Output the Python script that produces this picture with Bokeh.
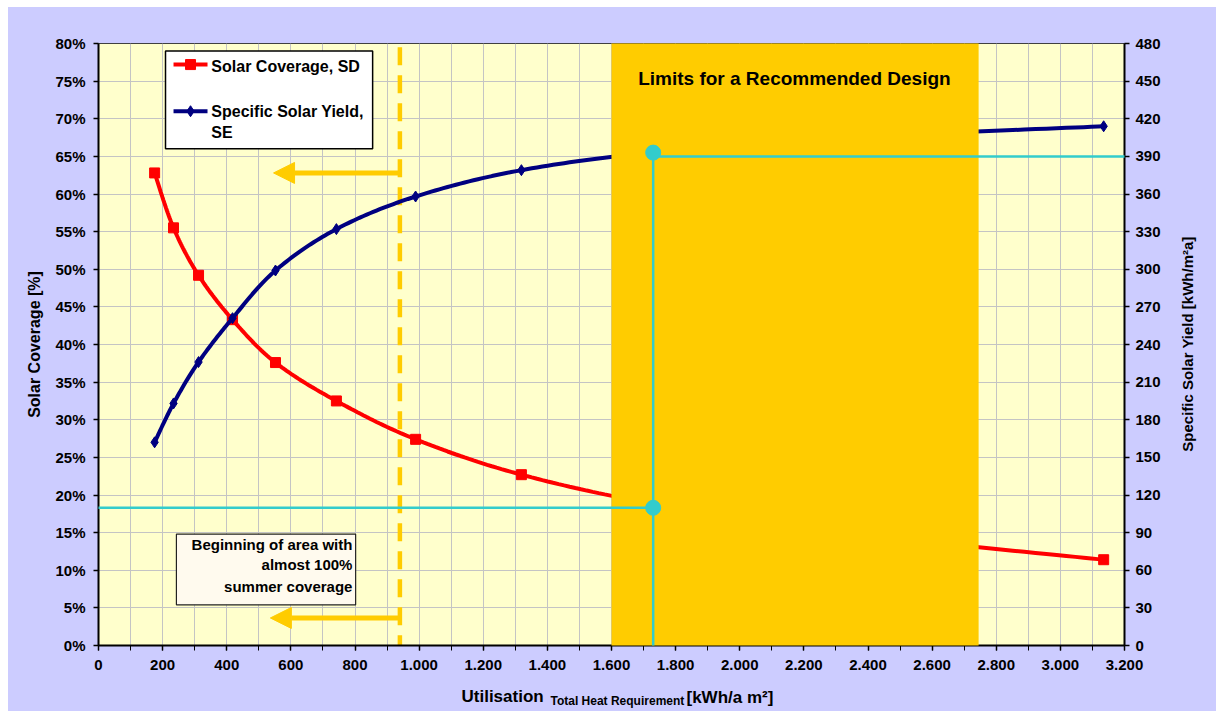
import numpy as np
from bokeh.plotting import figure
from bokeh.layouts import row, column
from bokeh.models import (Range1d, LinearAxis, FixedTicker, PrintfTickFormatter,
                          BoxAnnotation, Label, Arrow, NormalHead, Spacer)
from bokeh.core.properties import value
from bokeh.embed import file_html
from bokeh.resources import INLINE

# ---------------- data ----------------
utilisation = [175, 234, 312, 418, 552, 742, 989, 1319, 1759, 2345, 3135]
solar_coverage = [62.8, 55.5, 49.2, 43.3, 37.6, 32.5, 27.4, 22.7, 18.6, 14.9, 11.4]
specific_yield = [162, 193, 226, 261, 299, 332, 358, 379, 394, 405, 414]

x_ticks = list(range(0, 3201, 200))
x_tick_labels = ["0", "200", "400", "600", "800", "1.000", "1.200", "1.400", "1.600",
                 "1.800", "2.000", "2.200", "2.400", "2.600", "2.800", "3.000", "3.200"]
y_left_ticks = list(range(0, 81, 5))
y_right_ticks = list(range(0, 481, 30))

design_zone = (1600, 2745)          # "Limits for a Recommended Design"
summer_start = 940                  # beginning of area with ~100% summer coverage
limit_x = 1730
limit_coverage = 18.3
limit_dot_coverage = 65.5
limit_yield = 390

FONT = "Liberation Sans"
RED = "#FF0000"
NAVY = "#000080"
ORANGE = "#FFCC00"
CYAN = "#33CCCC"
LAVENDER = "#CCCCFF"


def smooth(xs, ys, n=24):
    pts = np.column_stack([xs, ys]).astype(float)
    ext = np.vstack([pts[0], pts, pts[-1]])
    out = []
    for i in range(1, len(ext) - 2):
        p0, p1, p2, p3 = ext[i - 1], ext[i], ext[i + 1], ext[i + 2]
        for t in np.linspace(0, 1, n, endpoint=False):
            t2, t3 = t * t, t * t * t
            pt = 0.5 * ((2 * p1) + (-p0 + p2) * t + (2 * p0 - 5 * p1 + 4 * p2 - p3) * t2
                        + (-p0 + 3 * p1 - 3 * p2 + p3) * t3)
            out.append(pt)
    out.append(pts[-1])
    out = np.array(out)
    return out[:, 0], out[:, 1]


p = figure(width=1162, height=673, x_range=Range1d(0, 3200), y_range=Range1d(0, 80),
           output_backend="svg", toolbar_location=None,
           min_border_left=90, min_border_right=46, min_border_top=36, min_border_bottom=35)
p.extra_y_ranges = {"right": Range1d(0, 480)}

p.background_fill_color = "#FFFFCC"
p.border_fill_color = LAVENDER
p.outline_line_color = "#404040"
p.outline_line_width = 1

# grids
p.xgrid.ticker = FixedTicker(ticks=list(range(0, 3201, 100)))
p.ygrid.ticker = FixedTicker(ticks=y_left_ticks)
for g in (p.xgrid, p.ygrid):
    g.grid_line_color = "#C4C4C4"
    g.grid_line_width = 1

# axes
xa = p.xaxis[0]
xa.ticker = FixedTicker(ticks=x_ticks, minor_ticks=list(range(0, 3201, 100)))
xa.major_label_overrides = {t: lab for t, lab in zip(x_ticks, x_tick_labels)}
xa.major_label_standoff = 9
xa.minor_tick_out = 5
xa.minor_tick_in = 0
xa.major_tick_out = 5
xa.major_tick_in = 0

ya = p.yaxis[0]
ya.ticker = FixedTicker(ticks=y_left_ticks)
ya.formatter = PrintfTickFormatter(format="%d%%")
ya.axis_label = "Solar Coverage [%]"
ya.axis_label_standoff = 9
ya.major_label_standoff = 8
ya.major_tick_out = 5
ya.major_tick_in = 0

yr = LinearAxis(y_range_name="right", ticker=FixedTicker(ticks=y_right_ticks))
yr.major_label_standoff = 6
yr.major_tick_out = 5
yr.major_tick_in = 0
p.add_layout(yr, "right")

for ax in (xa, ya, yr):
    ax.axis_line_color = "black"
    ax.axis_line_width = 2
    ax.major_tick_line_color = "black"
    ax.major_tick_line_width = 1.5
    ax.minor_tick_line_color = "black" if ax is xa else None
    ax.major_label_text_font = FONT
    ax.major_label_text_font_style = "bold"
    ax.major_label_text_font_size = "15px"
    ax.major_label_text_color = "black"
    ax.axis_label_text_font = FONT
    ax.axis_label_text_font_style = "bold"
    ax.axis_label_text_font_size = "16px"
    ax.axis_label_text_color = "black"

# dashed summer line
p.line([summer_start, summer_start], [79.5, 0], line_color=ORANGE, line_width=4.5,
       line_dash="18 10")

# curves
sx, sy = smooth(utilisation, solar_coverage)
p.line(sx, sy, line_color=RED, line_width=4)
p.scatter(utilisation, solar_coverage, marker="square", size=10, fill_color=RED, line_color=RED)

bx, by = smooth(utilisation, specific_yield)
p.line(bx, by, line_color=NAVY, line_width=4, y_range_name="right")
p.scatter(utilisation, specific_yield, marker="diamond", size=11, fill_color=NAVY,
          line_color=NAVY, y_range_name="right")

# legend (drawn manually)
p.quad(left=[209], right=[855], bottom=[66.0], top=[79.0], fill_color="white",
       line_color="black", line_width=1.5)
p.line([234, 340], [77.2, 77.2], line_color=RED, line_width=4)
p.scatter([287], [77.2], marker="square", size=10, fill_color=RED, line_color=RED)
p.line([234, 340], [71.0, 71.0], line_color=NAVY, line_width=4)
p.scatter([287], [71.0], marker="diamond", size=11, fill_color=NAVY, line_color=NAVY)
p.text(x=[352, 352, 352], y=[77.0, 71.0, 68.2],
       text=["Solar Coverage, SD", "Specific Solar Yield,", "SE"],
       text_font=value(FONT), text_font_style="bold", text_font_size="16px",
       text_baseline="middle", text_align="left", text_color="black")

# text box
p.quad(left=[243], right=[802], bottom=[5.4], top=[14.8], fill_color="#FFFAEE",
       line_color="#222222", line_width=1.2)
p.text(x=[792, 792, 792], y=[13.36, 10.7, 7.9],
       text=["Beginning of area with", "almost 100%", "summer coverage"],
       text_font=value(FONT), text_font_style="bold", text_font_size="15px",
       text_baseline="middle", text_align="right", text_color="black")

# arrows
for yv, xe in ((62.8, 546), (3.66, 536)):
    p.add_layout(Arrow(end=NormalHead(size=21, fill_color=ORANGE, line_color=ORANGE, line_width=1),
                       x_start=summer_start + 2, y_start=yv, x_end=xe, y_end=yv,
                       line_color=ORANGE, line_width=5))

# recommended design zone
p.add_layout(BoxAnnotation(left=design_zone[0], right=design_zone[1], bottom=-1.3, top=80.4,
                           fill_color=ORANGE, fill_alpha=1, line_color=None))
p.add_layout(Label(x=(design_zone[0] + design_zone[1]) / 2 - 2, y=75.4,
                   text="Limits for a Recommended Design", text_font=FONT,
                   text_font_style="bold", text_font_size="19px", text_align="center",
                   text_baseline="middle", text_color="black"))

# cyan design limit lines
r1 = p.line([limit_x, limit_x], [0, limit_dot_coverage], line_color=CYAN, line_width=2.5)
r2 = p.line([0, limit_x], [limit_coverage, limit_coverage], line_color=CYAN, line_width=2.5)
r3 = p.line([limit_x, 3200], [limit_yield, limit_yield], line_color=CYAN, line_width=2.5,
            y_range_name="right")
r4 = p.scatter([limit_x, limit_x], [limit_dot_coverage, limit_coverage], size=15,
               fill_color=CYAN, line_color=CYAN)
for r in (r1, r2, r3, r4):
    r.level = "overlay"


def text_strip(w, h):
    f = figure(width=w, height=h, x_range=Range1d(0, w), y_range=Range1d(0, h),
               output_backend="svg", toolbar_location=None, min_border=0,
               x_axis_type=None, y_axis_type=None)
    f.grid.visible = False
    f.outline_line_color = None
    f.background_fill_color = LAVENDER
    f.border_fill_color = LAVENDER
    return f


# right axis title strip (reads bottom-to-top)
pr = text_strip(46, 673)
pr.text(x=[17], y=[337], text=["Specific Solar Yield [kWh/m²a]"], angle=np.pi / 2,
        text_font=value(FONT), text_font_style="bold", text_font_size="15px",
        text_align="center", text_baseline="middle", text_color="black")

# x axis title strip with subscript
pb = text_strip(1208, 31)
pb.text(x=[453, 678], y=[15, 14], text=["Utilisation", "[kWh/a m²]"],
        text_font=value(FONT), text_font_style="bold", text_font_size="17px",
        text_align="left", text_baseline="alphabetic", text_color="black")
pb.text(x=[542], y=[11], text=["Total Heat Requirement"],
        text_font=value(FONT), text_font_style="bold", text_font_size="12px",
        text_align="left", text_baseline="alphabetic", text_color="black")

inner = column(row(p, pr, styles={"background-color": LAVENDER}), pb,
               styles={"background-color": LAVENDER})
page = column(Spacer(width=1216, height=7), row(Spacer(width=8, height=704), inner))
open("out.html", "w").write(file_html(page, INLINE))
